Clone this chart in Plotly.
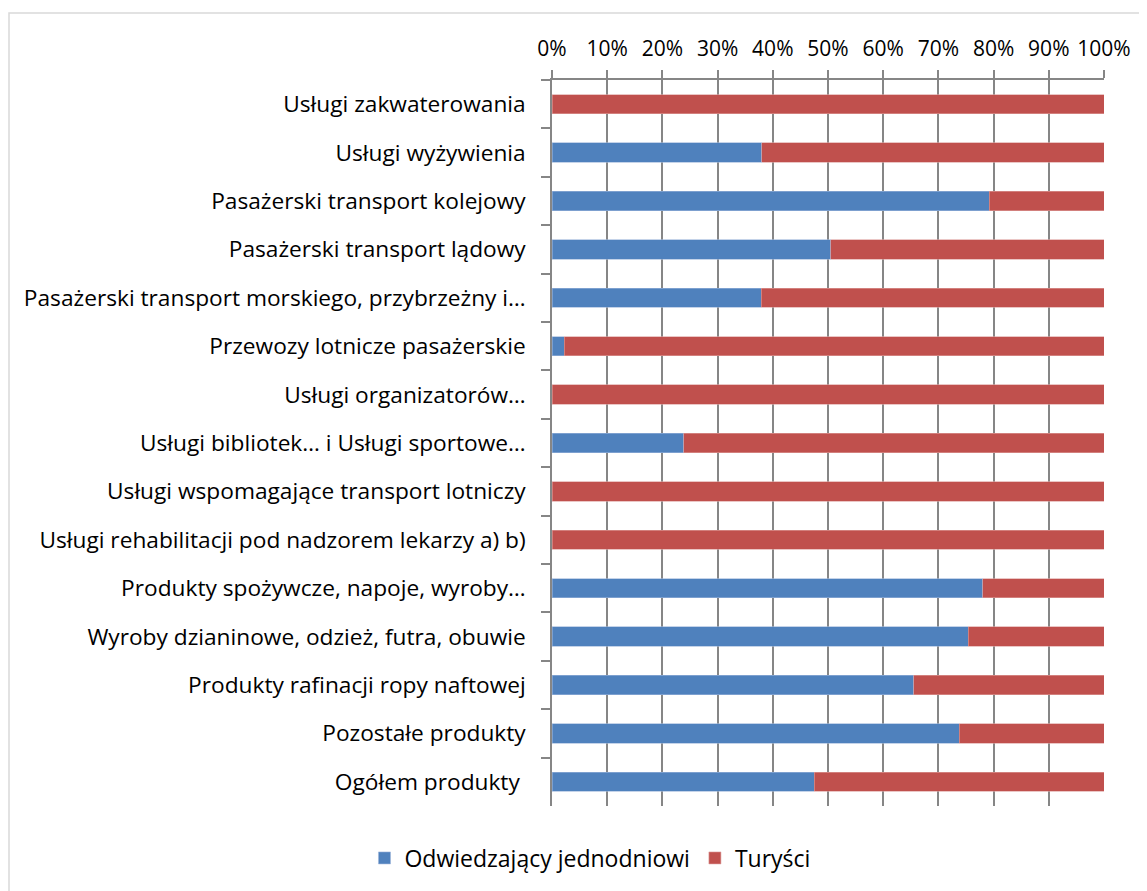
import plotly.graph_objects as go

categories = [
    "Usługi zakwaterowania",
    "Usługi wyżywienia",
    "Pasażerski transport kolejowy",
    "Pasażerski transport lądowy",
    "Pasażerski transport morskiego, przybrzeżny i…",
    "Przewozy lotnicze pasażerskie",
    "Usługi organizatorów…",
    "Usługi bibliotek… i Usługi sportowe…",
    "Usługi wspomagające transport lotniczy",
    "Usługi rehabilitacji pod nadzorem lekarzy a) b)",
    "Produkty spożywcze, napoje, wyroby…",
    "Wyroby dzianinowe, odzież, futra, obuwie",
    "Produkty rafinacji ropy naftowej",
    "Pozostałe produkty",
    "Ogółem produkty\u00a0",
]
odwiedzajacy = [0.0, 38.0, 79.2, 50.5, 37.9, 2.2, 0.0, 23.9, 0.0, 0.0, 78.0, 75.4, 65.5, 73.8, 47.5]
turysci = [100.0, 62.0, 20.8, 49.5, 62.1, 97.8, 100.0, 76.1, 100.0, 100.0, 22.0, 24.6, 34.5, 26.2, 52.5]
tick_vals = [0, 10, 20, 30, 40, 50, 60, 70, 80, 90, 100]
tick_text = [f"{v}%" for v in tick_vals]

FONT = "Open Sans"

fig = go.Figure()
fig.add_trace(go.Bar(
    y=categories, x=odwiedzajacy, orientation="h", name="Odwiedzający jednodniowi",
    marker=dict(color="#4F81BD", line=dict(color="#9DB5DA", width=0.6)),
))
fig.add_trace(go.Bar(
    y=categories, x=turysci, orientation="h", name="Turyści",
    marker=dict(color="#C0504D", line=dict(color="#DDA09E", width=0.6)),
))

fig.update_layout(
    barmode="stack",
    bargap=0.6,
    width=1139, height=883,
    margin=dict(l=544, r=43, t=72, b=85),
    paper_bgcolor="white", plot_bgcolor="white",
    font=dict(family=FONT, size=22, color="#000000"),
    legend=dict(orientation="h", x=0.0688, xanchor="center", y=-0.0716, yanchor="middle",
                font=dict(size=23), traceorder="normal", itemwidth=30),
    xaxis=dict(
        side="top", range=[0, 100], tickvals=tick_vals, ticktext=tick_text,
        showgrid=True, gridcolor="#868686", gridwidth=1.5,
        showline=True, linecolor="#868686", linewidth=1.5,
        ticks="outside", ticklen=8, tickcolor="#868686", tickwidth=1.5,
        tickfont=dict(size=21), zeroline=False, fixedrange=True,
        ticklabelstandoff=6, automargin=False,
    ),
    yaxis=dict(
        autorange="reversed", showline=True, linecolor="#868686", linewidth=1.5,
        ticks="outside", ticklen=9, tickcolor="#868686", tickwidth=1.5,
        tickson="boundaries", showgrid=False, tickfont=dict(size=22.7),
        ticklabelstandoff=20, automargin=False,
    ),
    shapes=[dict(type="rect", xref="paper", yref="paper",
                 x0=-0.9837, x1=1.2, y0=-0.2, y1=1.0923,
                 line=dict(color="#D9D9D9", width=1.5), layer="below")],
)

fig.write_html("out.html")
